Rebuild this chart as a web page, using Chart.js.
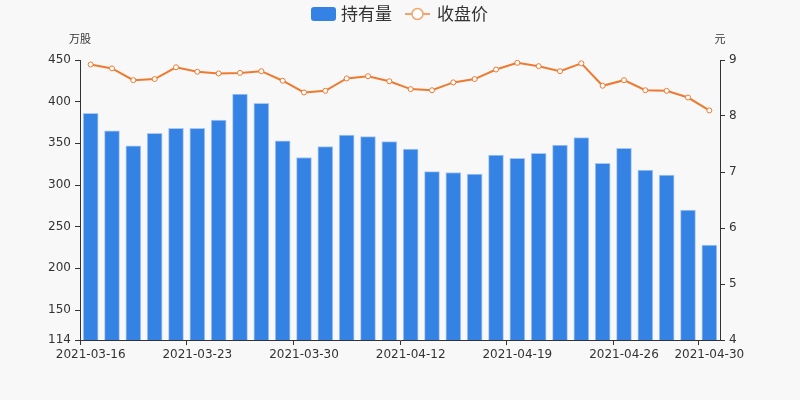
<!DOCTYPE html>
<html>
<head>
<meta charset="utf-8">
<script src="https://cdn.jsdelivr.net/npm/chart.js@4"></script>
<style>
  html, body { margin: 0; padding: 0; background: #f8f8f8; }
  #wrap { width: 800px; height: 400px; }
</style>
</head>
<body>
<div id="wrap"><canvas id="chart" width="800" height="400"></canvas></div>
<script>
// trading days shown on the x axis
const dates = [
  "2021-03-16","2021-03-17","2021-03-18","2021-03-19","2021-03-22",
  "2021-03-23","2021-03-24","2021-03-25","2021-03-26","2021-03-29",
  "2021-03-30","2021-03-31","2021-04-01","2021-04-02","2021-04-09",
  "2021-04-12","2021-04-13","2021-04-14","2021-04-15","2021-04-16",
  "2021-04-19","2021-04-20","2021-04-21","2021-04-22","2021-04-23",
  "2021-04-26","2021-04-27","2021-04-28","2021-04-29","2021-04-30"
];
// 持有量 (万股)
const holding = [
  386, 365, 347, 362, 368, 368, 378, 409, 398, 353,
  333, 346, 360, 358, 352, 343, 316, 315, 313, 336,
  332, 338, 348, 357, 326, 344, 318, 312, 270, 228
];
// 收盘价 (元)
const closePrice = [
  8.92, 8.85, 8.64, 8.66, 8.87, 8.79, 8.76, 8.77, 8.80, 8.63,
  8.42, 8.45, 8.67, 8.71, 8.62, 8.48, 8.46, 8.60, 8.66, 8.83,
  8.95, 8.89, 8.80, 8.94, 8.54, 8.64, 8.46, 8.45, 8.33, 8.10
];
const leftTicks = [114, 150, 200, 250, 300, 350, 400, 450];
const xTickIdx = [0, 5, 10, 15, 20, 25, 29];

const barColor = "#3482e3";
const lineColor = "#ee7a30";
const textColor = "#333";
const tickFont = { family: "'DejaVu Sans', sans-serif", size: 12 };

const bg = {
  id: "bg",
  beforeDraw(chart) {
    const c = chart.ctx;
    c.save();
    c.fillStyle = "#f8f8f8";
    c.fillRect(0, 0, chart.width, chart.height);
    c.restore();
  }
};

// legend + axis names
const deco = {
  id: "deco",
  afterDraw(chart) {
    const c = chart.ctx;
    const area = chart.chartArea;
    c.save();
    // legend
    c.fillStyle = barColor;
    c.beginPath();
    c.roundRect(311, 7, 25, 14, 3);
    c.fill();
    c.font = "17px 'Noto Sans CJK SC', sans-serif";
    c.fillStyle = textColor;
    c.textBaseline = "middle";
    c.textAlign = "left";
    c.fillText("持有量", 341, 14);
    c.strokeStyle = "#f3a46c";
    c.lineWidth = 2;
    c.beginPath();
    c.moveTo(405, 14);
    c.lineTo(430, 14);
    c.stroke();
    c.beginPath();
    c.arc(417.5, 14, 5.5, 0, Math.PI * 2);
    c.fillStyle = "#fff";
    c.fill();
    c.lineWidth = 1.5;
    c.stroke();
    c.fillStyle = textColor;
    c.fillText("收盘价", 437, 14);
    // axis names
    c.font = "11px 'Noto Sans CJK SC', sans-serif";
    c.textAlign = "center";
    c.fillText("万股", area.left, 39);
    c.fillText("元", area.right, 39);
    c.restore();
  }
};

new Chart(document.getElementById("chart"), {
  data: {
    datasets: [
      {
        type: "line",
        label: "收盘价",
        data: closePrice.map((v, i) => ({ x: i + 0.5, y: v })),
        yAxisID: "y1",
        borderColor: lineColor,
        borderWidth: 2,
        pointRadius: 2.5,
        pointBorderWidth: 1,
        pointBackgroundColor: "#fff",
        pointBorderColor: lineColor,
        tension: 0,
        order: 0
      },
      {
        type: "bar",
        label: "持有量",
        data: holding.map((v, i) => ({ x: i + 0.5, y: v })),
        yAxisID: "y",
        backgroundColor: barColor,
        borderColor: "#a9c9f2",
        borderWidth: 1,
        barThickness: 15,
        order: 1
      }
    ]
  },
  options: {
    responsive: false,
    animation: false,
    layout: { padding: { top: 60, left: 0, right: 0, bottom: 0 } },
    plugins: { legend: { display: false }, tooltip: { enabled: false } },
    scales: {
      x: {
        type: "linear",
        min: 0,
        max: 30,
        offset: false,
        bounds: "data",
        afterBuildTicks(axis) { axis.ticks = xTickIdx.map(v => ({ value: v })); },
        afterFit(axis) { axis.height = 60; },
        ticks: {
          color: textColor,
          font: tickFont,
          padding: 3,
          labelOffset: 10.67,
          maxRotation: 0,
          autoSkip: false,
          callback: v => dates[v]
        },
        grid: { display: true, drawOnChartArea: false, drawTicks: true, tickLength: 5, color: textColor, offset: false },
        border: { display: true, color: textColor, width: 1 }
      },
      y: {
        position: "left",
        min: 114,
        max: 450,
        afterBuildTicks(axis) { axis.ticks = leftTicks.map(v => ({ value: v })); },
        afterFit(axis) { axis.width = 80; },
        ticks: { color: textColor, font: tickFont, padding: 4 },
        grid: { display: true, drawOnChartArea: false, drawTicks: true, tickLength: 5, color: textColor },
        border: { display: true, color: textColor, width: 1 }
      },
      y1: {
        position: "right",
        min: 4,
        max: 9,
        ticks: { stepSize: 1, color: textColor, font: tickFont, padding: 4 },
        afterFit(axis) { axis.width = 80; },
        grid: { display: true, drawOnChartArea: false, drawTicks: true, tickLength: 5, color: textColor },
        border: { display: true, color: textColor, width: 1 }
      }
    }
  },
  plugins: [bg, deco]
});
</script>
</body>
</html>
